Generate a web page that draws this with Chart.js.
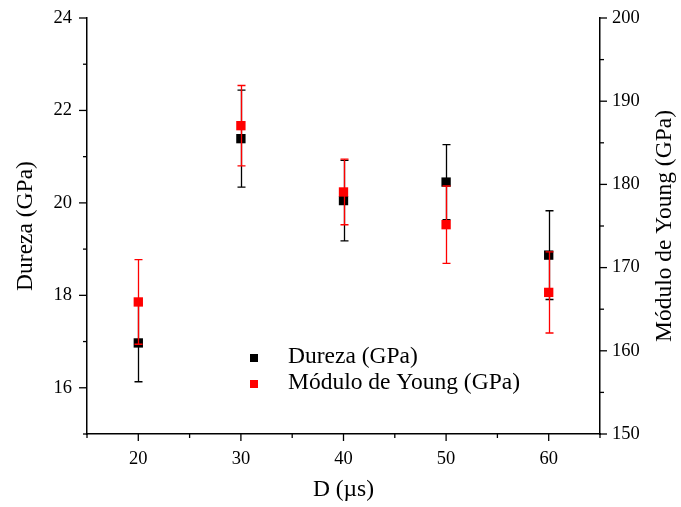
<!DOCTYPE html>
<html>
<head>
<meta charset="utf-8">
<script src="https://cdn.jsdelivr.net/npm/chart.js@4.4.1/dist/chart.umd.min.js"></script>
<style>
html,body{margin:0;padding:0;background:#fff;}
#wrap{width:681px;height:507px;}
</style>
</head>
<body>
<div id="wrap"><canvas id="c" width="681" height="507"></canvas></div>
<script>
// ---- data ----
const xValues = [20, 30, 40, 50, 60];
const durezaValues = [16.97, 21.39, 20.05, 20.45, 18.87];
const durezaErrors = [0.84, 1.05, 0.87, 0.81, 0.96];
const youngValues = [165.87, 187.06, 179.09, 175.16, 167.02];
const youngErrors = [5.08, 4.83, 3.94, 4.65, 4.88];
const seriesLabels = ['Dureza (GPa)', 'Módulo de Young (GPa)'];
const xTitle = 'D (µs)';
const yLeftTitle = 'Dureza (GPa)';
const yRightTitle = 'Módulo de Young (GPa)';

const FONT = '"Liberation Serif", "Times New Roman", serif';
const RED = '#ff0000';

const durezaPts = xValues.map((x, i) => ({x: x, y: durezaValues[i], e: durezaErrors[i]}));
const youngPts = xValues.map((x, i) => ({x: x, y: youngValues[i], e: youngErrors[i]}));

const errorBarPlugin = {
  id: 'errorBars',
  beforeDatasetDraw(chart, args) {
    const ds = chart.data.datasets[args.index];
    const xs = chart.scales.x;
    const ys = chart.scales[ds.yAxisID];
    const ctx = chart.ctx;
    ctx.save();
    ctx.strokeStyle = ds.errColor;
    ctx.lineWidth = 1.3;
    ds.data.forEach(p => {
      const px = Math.round(xs.getPixelForValue(p.x)) + 0.5;
      const top = ys.getPixelForValue(p.y + p.e);
      const bot = ys.getPixelForValue(p.y - p.e);
      ctx.beginPath();
      ctx.moveTo(px, top); ctx.lineTo(px, bot);
      ctx.moveTo(px - 4, top); ctx.lineTo(px + 4, top);
      ctx.moveTo(px - 4, bot); ctx.lineTo(px + 4, bot);
      ctx.stroke();
    });
    ctx.restore();
  }
};

const decorPlugin = {
  id: 'decor',
  afterDraw(chart) {
    const ctx = chart.ctx;
    const ca = chart.chartArea;
    const x = chart.scales.x, yl = chart.scales.y, yr = chart.scales.y2;
    ctx.save();
    ctx.strokeStyle = '#000';
    ctx.lineWidth = 1.3;
    for (let v = 15; v <= 65; v += 5) {
      const px = x.getPixelForValue(v);
      const len = (v % 10 === 0) ? 7 : 4;
      ctx.beginPath(); ctx.moveTo(px, ca.bottom); ctx.lineTo(px, ca.bottom + len); ctx.stroke();
    }
    for (let v = 15; v <= 24; v += 1) {
      const py = yl.getPixelForValue(v);
      const len = (v % 2 === 0) ? 8 : 4;
      ctx.beginPath(); ctx.moveTo(ca.left, py); ctx.lineTo(ca.left - len, py); ctx.stroke();
    }
    for (let v = 150; v <= 200; v += 5) {
      const py = yr.getPixelForValue(v);
      const len = (v % 10 === 0) ? 7 : 4;
      ctx.beginPath(); ctx.moveTo(ca.right, py); ctx.lineTo(ca.right + len, py); ctx.stroke();
    }
    // titles
    ctx.fillStyle = '#000';
    ctx.font = '23.5px ' + FONT;
    ctx.textAlign = 'center';
    ctx.textBaseline = 'middle';
    ctx.fillText(xTitle, (ca.left + ca.right) / 2, 490);
    ctx.save();
    ctx.translate(26, (ca.top + ca.bottom) / 2);
    ctx.rotate(-Math.PI / 2);
    ctx.fillText(yLeftTitle, 0, 0);
    ctx.restore();
    ctx.save();
    ctx.translate(665, (ca.top + ca.bottom) / 2);
    ctx.rotate(-Math.PI / 2);
    ctx.fillText(yRightTitle, 0, 0);
    ctx.restore();
    // legend
    ctx.textAlign = 'left';
    ctx.fillStyle = '#000';
    ctx.fillRect(250, 354, 8, 8);
    ctx.fillStyle = RED;
    ctx.fillRect(250, 380, 8, 8);
    ctx.fillStyle = '#000';
    ctx.fillText(seriesLabels[0], 288, 357);
    ctx.fillText(seriesLabels[1], 288, 383);
    ctx.restore();
  }
};

function fixY(w) {
  return function (s) { s.width = w; s.paddingTop = 0; s.paddingBottom = 0; };
}

new Chart(document.getElementById('c'), {
  type: 'scatter',
  data: {
    datasets: [
      {
        label: seriesLabels[0], data: durezaPts, yAxisID: 'y', order: 2,
        errColor: '#000',
        pointStyle: 'rect', pointRadius: 6.6, pointHoverRadius: 6.6,
        backgroundColor: '#000', borderColor: '#000', borderWidth: 0
      },
      {
        label: seriesLabels[1], data: youngPts, yAxisID: 'y2', order: 1,
        errColor: RED,
        pointStyle: 'rect', pointRadius: 6.6, pointHoverRadius: 6.6,
        backgroundColor: RED, borderColor: RED, borderWidth: 0
      }
    ]
  },
  options: {
    responsive: false,
    animation: false,
    events: [],
    layout: {padding: {top: 18, left: 0, right: 0, bottom: 0}},
    plugins: {legend: {display: false}, tooltip: {enabled: false}},
    scales: {
      x: {
        type: 'linear', min: 15, max: 65,
        afterFit(s) { s.height = 73; s.paddingLeft = 0; s.paddingRight = 0; },
        grid: {display: false, drawTicks: false},
        border: {display: true, color: '#000', width: 1.5},
        ticks: {
          stepSize: 5, autoSkip: false, maxRotation: 0, padding: 14,
          color: '#000', font: {family: FONT, size: 18.5},
          callback: v => (v % 10 === 0 && v >= 20 && v <= 60) ? String(v) : ''
        }
      },
      y: {
        type: 'linear', position: 'left', min: 15, max: 24,
        afterFit: fixY(87),
        grid: {display: false, drawTicks: false},
        border: {display: true, color: '#000', width: 1.5},
        ticks: {
          stepSize: 1, autoSkip: false, padding: 15,
          color: '#000', font: {family: FONT, size: 18.5},
          callback: v => (v % 2 === 0) ? String(v) : ''
        }
      },
      y2: {
        type: 'linear', position: 'right', min: 150, max: 200,
        afterFit: fixY(81),
        grid: {display: false, drawTicks: false},
        border: {display: true, color: '#000', width: 1.5},
        ticks: {
          stepSize: 5, autoSkip: false, padding: 12,
          color: '#000', font: {family: FONT, size: 18.5},
          callback: v => (v % 10 === 0) ? String(v) : ''
        }
      }
    }
  },
  plugins: [errorBarPlugin, decorPlugin]
});
</script>
</body>
</html>
